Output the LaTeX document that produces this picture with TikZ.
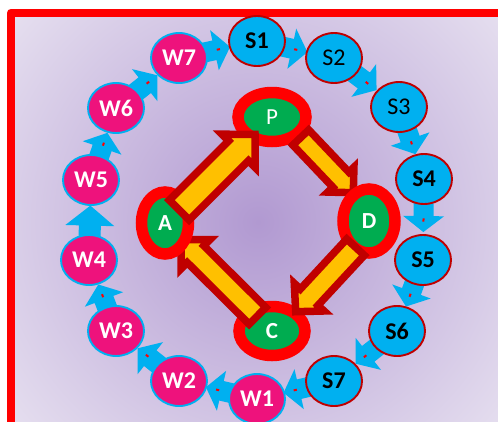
\documentclass[tikz,border=0pt]{standalone}
\usepackage{fontspec}
\setmainfont{Carlito}
\usetikzlibrary{shapes.geometric,calc}
\definecolor{dred}{HTML}{C00000}
\definecolor{gold}{HTML}{FFC000}
\definecolor{cyanb}{HTML}{00B0F0}
\definecolor{pinkw}{HTML}{EE127C}
\definecolor{greenn}{HTML}{00AC50}
\definecolor{bgmid}{HTML}{B199D1}
\definecolor{bgcorner}{HTML}{E5DEEF}
\pgfdeclareradialshading{bgshade}{\pgfpoint{0bp}{0bp}}{color(0bp)=(bgmid); color(17.65bp)=(bgcorner); color(50bp)=(bgcorner)}
\pgfdeclarelayer{backl}
\pgfdeclarelayer{ringarrows}
\pgfdeclarelayer{pcl}
\pgfdeclarelayer{lowarrows}
\pgfdeclarelayer{adl}
\pgfsetlayers{backl,ringarrows,pcl,lowarrows,adl,main}
\tikzset{
  snode/.style={ellipse,draw=dred,line width=1.9pt,fill=cyanb,minimum width=56pt,minimum height=50pt,inner sep=0pt,text=black,font=\fontsize{24}{24}\selectfont},
  wnode/.style={ellipse,draw=cyanb,line width=1.9pt,fill=pinkw,minimum width=56pt,minimum height=50pt,inner sep=0pt,text=white,font=\fontsize{24}{24}\selectfont\bfseries},
  bignode/.style={ellipse,draw=red,line width=11.5pt,fill=greenn,inner sep=0pt,text=white,font=\fontsize{23}{23}\selectfont},
  bigarrow/.style={draw=dred,line width=7.5pt,fill=gold,miter limit=10},
  ringarrow/.style={fill=cyanb},
  ringmark/.style={draw=red,line width=2pt}
}
% style, tail, tip, half shaft, head length, half head
\newcommand{\blockarrow}[6]{%
  \coordinate (ba) at ($(#3)!#5!(#2)$);
  \path[#1] ($(#2)!#4!90:(#3)$) -- ($(ba)!#4!90:(#3)$) -- ($(ba)!#6!90:(#3)$) -- (#3) -- ($(ba)!#6!-90:(#3)$) -- ($(ba)!#4!-90:(#3)$) -- ($(#2)!#4!-90:(#3)$) -- cycle;
}
\newcommand{\ringlink}[2]{%
  \coordinate (rtail) at ($(#1)!.3!(#2)$);
  \coordinate (rtip) at ($(#1)!.655!(#2)$);
  \blockarrow{ringarrow}{rtail}{rtip}{10pt}{16pt}{20.5pt}
  \coordinate (rm) at ($(rtip)!12pt!(rtail)$);
  \draw[ringmark] ($(rm)!1.6pt!(rtip)$) -- ($(rm)!1.6pt!(rtail)$);
}
\begin{document}
\begin{tikzpicture}[x=1pt,y=-1pt]
\useasboundingbox (0,0) rectangle (498,421);
\begin{pgfonlayer}{backl}
  \fill[white] (0,0) rectangle (498,421);
  \begin{scope}
    \clip (11,12.7) rectangle (530,450);
    \shade[shading=bgshade] (-192,-228) rectangle (708,672);
  \end{scope}
  \draw[red,line width=8pt,line join=round] (11,12.7) rectangle (530,450);
\end{pgfonlayer}

\node[snode] (S1) at (257,41) {\bfseries S1};
\node[snode] (S2) at (334,58) {S2};
\node[snode] (S3) at (399,107) {S3};
\node[snode] (S4) at (424,179) {\bfseries S4};
\node[snode] (S5) at (423,260) {\bfseries S5};
\node[snode] (S6) at (397,331) {\bfseries S6};
\node[snode] (S7) at (334,381) {\bfseries S7};
\node[wnode] (W1) at (257,399) {W1};
\node[wnode] (W2) at (179,381) {W2};
\node[wnode] (W3) at (116,331) {W3};
\node[wnode] (W4) at (89,260) {W4};
\node[wnode] (W5) at (91,180) {W5};
\node[wnode] (W6) at (116,108) {W6};
\node[wnode] (W7) at (179,58) {W7};

\begin{pgfonlayer}{ringarrows}
  \ringlink{S1}{S2}
  \ringlink{S2}{S3}
  \ringlink{S3}{S4}
  \ringlink{S4}{S5}
  \ringlink{S5}{S6}
  \ringlink{S6}{S7}
  \ringlink{S7}{W1}
  \ringlink{W1}{W2}
  \ringlink{W2}{W3}
  \ringlink{W3}{W4}
  \coordinate (w45a) at ($(W4)!.3!(W5)$);
  \coordinate (w45b) at ($(W4)!.68!(W5)$);
  \blockarrow{ringarrow}{w45a}{w45b}{11pt}{20pt}{24.5pt}
  \ringlink{W5}{W6}
  \ringlink{W6}{W7}
  \ringlink{W7}{S1}
\end{pgfonlayer}

\begin{pgfonlayer}{pcl}
  \node[bignode,minimum width=68pt,minimum height=49pt] (P) at (272,117) {P};
  \node[bignode,minimum width=66pt,minimum height=49pt,font=\fontsize{23}{23}\selectfont\bfseries] (C) at (272,331) {C};
\end{pgfonlayer}
\begin{pgfonlayer}{adl}
  \node[bignode,minimum width=47pt,minimum height=62pt,font=\fontsize{23}{23}\selectfont\bfseries] (A) at (165,223) {A};
  \node[bignode,minimum width=52pt,minimum height=64pt,font=\fontsize{23}{23}\selectfont\bfseries] (D) at (369,221) {D};
\end{pgfonlayer}

\coordinate (catail) at ($(C)+(-14.5,-15.2)$);
\coordinate (catip) at ($(A)+(16,16.7)$);
\coordinate (pdtail) at ($(P)+(28.8,20.5)$);
\coordinate (pdtip) at ($(D)+(-15.7,-28.3)$);
\coordinate (aptail) at ($(A)+(14.3,-13)$);
\coordinate (aptip) at ($(P)+(-17,17.3)$);
\coordinate (dctail) at ($(D)+(-13.5,26.2)$);
\coordinate (dctip) at ($(C)+(23.7,-19.3)$);
\begin{pgfonlayer}{lowarrows}
  \blockarrow{bigarrow}{catail}{catip}{11.8pt}{20.5pt}{20.5pt}
  \blockarrow{bigarrow}{pdtail}{pdtip}{11pt}{18pt}{18pt}
\end{pgfonlayer}
\blockarrow{bigarrow}{aptail}{aptip}{14pt}{23.3pt}{23.4pt}
\blockarrow{bigarrow}{dctail}{dctip}{12pt}{19.8pt}{20.3pt}
\end{tikzpicture}
\end{document}
